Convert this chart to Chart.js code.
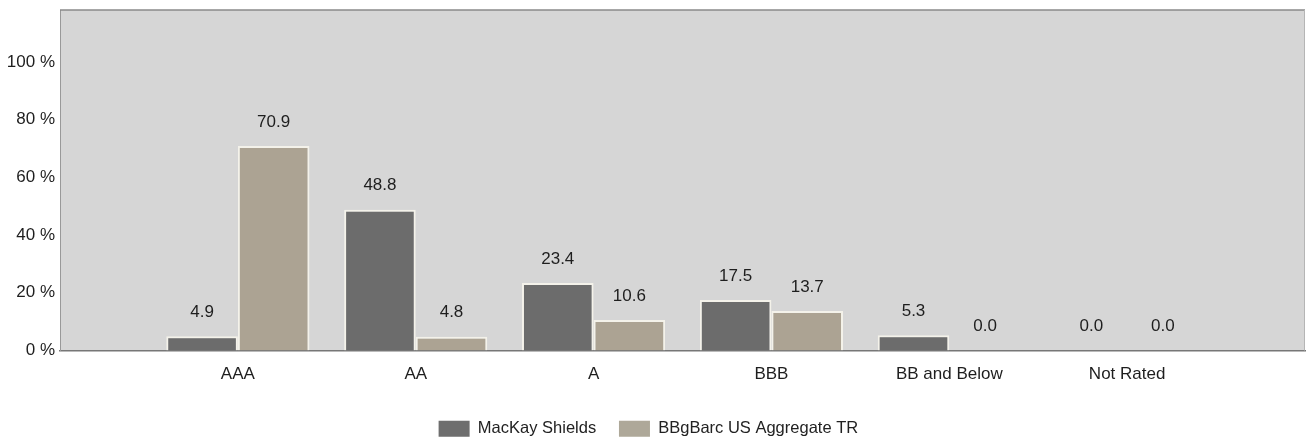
<!DOCTYPE html>
<html>
<head>
<meta charset="utf-8">
<script src="https://cdn.jsdelivr.net/npm/chart.js@4.4.1/dist/chart.umd.min.js"></script>
<style>
  html, body { margin: 0; padding: 0; background: #ffffff; }
  #wrap { width: 1306px; height: 439px; position: relative; }
</style>
</head>
<body>
<div id="wrap"><canvas id="c" width="1306" height="439"></canvas></div>
<script>
const categories = ['', 'AAA', 'AA', 'A', 'BBB', 'BB and Below', 'Not Rated', ''];
const mackayShields = [null, 4.9, 48.8, 23.4, 17.5, 5.3, 0.0, null];
const bbgBarcAggregate = [null, 70.9, 4.8, 10.6, 13.7, 0.0, 0.0, null];
const seriesNames = ['MacKay Shields', 'BBgBarc US Aggregate TR'];
const yTicks = [0, 20, 40, 60, 80, 100];
const yMax = 118;

const FONT = '"Liberation Sans", Arial, sans-serif';

const plotBg = {
  id: 'plotBg',
  beforeDraw(chart) {
    const { ctx, chartArea: a } = chart;
    ctx.save();
    ctx.fillStyle = '#d6d6d6';
    ctx.fillRect(a.left, a.top, a.right - a.left, a.bottom - a.top);
    ctx.restore();
  },
  afterDraw(chart) {
    const { ctx, chartArea: a } = chart;
    ctx.save();
    ctx.strokeStyle = '#8a8a8a';
    ctx.lineWidth = 1.5;
    ctx.beginPath();
    ctx.moveTo(a.left, a.top);
    ctx.lineTo(a.right, a.top);
    ctx.stroke();
    ctx.strokeStyle = '#b5b5b5';
    ctx.lineWidth = 1;
    ctx.beginPath();
    ctx.moveTo(a.right - 0.5, a.top);
    ctx.lineTo(a.right - 0.5, a.bottom);
    ctx.stroke();
    ctx.restore();
  }
};

const valueLabels = {
  id: 'valueLabels',
  afterDatasetsDraw(chart) {
    const { ctx } = chart;
    ctx.save();
    ctx.font = '17px ' + FONT;
    ctx.fillStyle = '#1e1e1e';
    ctx.textAlign = 'center';
    ctx.textBaseline = 'middle';
    chart.data.datasets.forEach((ds, di) => {
      const meta = chart.getDatasetMeta(di);
      meta.data.forEach((el, i) => {
        const v = ds.data[i];
        if (v === null || v === undefined) return;
        ctx.fillText(v.toFixed(1), el.x, el.y - 24);
      });
    });
    ctx.restore();
  }
};

const legendGap = ['\u2003\u2009', '\u2002'];

new Chart(document.getElementById('c'), {
  type: 'bar',
  data: {
    labels: categories,
    datasets: [
      {
        label: seriesNames[0],
        data: mackayShields,
        backgroundColor: '#6c6c6c',
        borderColor: '#f4f2ea',
        borderWidth: 2,
        categoryPercentage: 0.805,
        barPercentage: 1.0
      },
      {
        label: seriesNames[1],
        data: bbgBarcAggregate,
        backgroundColor: '#aca393',
        borderColor: '#f4f2ea',
        borderWidth: 2,
        categoryPercentage: 0.805,
        barPercentage: 1.0
      }
    ]
  },
  options: {
    responsive: false,
    animation: false,
    layout: { padding: { top: 10, right: 1, left: 0, bottom: -8 } },
    plugins: {
      legend: {
        position: 'bottom',
        labels: {
          boxWidth: 31,
          boxHeight: 16,
          padding: 3,
          color: '#222',
          font: { family: FONT, size: 16.5 },
          useBorderRadius: false,
          generateLabels(chart) {
            const cols = ['#6e6e6e', '#aea899'];
            return chart.data.datasets.map((ds, i) => ({
              text: ds.label + legendGap[i],
              fillStyle: cols[i],
              strokeStyle: cols[i],
              lineWidth: 0,
              datasetIndex: i,
              fontColor: '#222'
            }));
          }
        }
      },
      tooltip: { enabled: false }
    },
    scales: {
      x: {
        offset: false,
        grid: { display: false, drawTicks: false },
        border: { display: true, color: '#777', width: 1.5 },
        ticks: {
          color: '#1e1e1e',
          font: { family: FONT, size: 17 },
          padding: 14,
          maxRotation: 0,
          autoSkip: false
        },
        afterFit(s) { s.height = 67; s.paddingLeft = 0; s.paddingRight = 0; }
      },
      y: {
        min: 0,
        max: yMax,
        grid: { display: false, drawTicks: false },
        border: { display: true, color: '#999', width: 1 },
        afterBuildTicks(s) { s.ticks = yTicks.map(v => ({ value: v })); },
        ticks: {
          color: '#1e1e1e',
          font: { family: FONT, size: 17 },
          padding: 5,
          callback: v => v + ' %'
        },
        afterFit(s) { s.width = 60; s.paddingTop = 0; s.paddingBottom = 0; }
      }
    }
  },
  plugins: [plotBg, valueLabels]
});
</script>
</body>
</html>
